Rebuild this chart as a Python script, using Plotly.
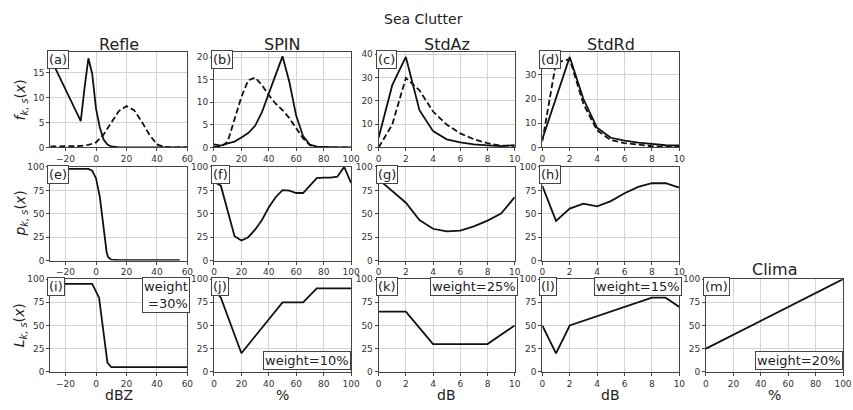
import plotly.graph_objects as go

W, H = 853, 410

# ---------------- data ----------------
# Row 1: f_{k,s}(x)
refle_f_solid_x = [-30, -10, -7.5, -5, -2.5, 0, 2.5, 5, 7.5, 10, 15, 20, 30, 40, 50, 60]
refle_f_solid_y = [18.0, 5.3, 12.0, 17.9, 14.8, 7.8, 4.0, 1.6, 0.6, 0.2, 0.0, 0.0, 0.0, 0.0, 0.0, 0.0]
refle_f_dash_x = [-30, -25, -20, -15, -10, -5, 0, 5, 10, 15, 20, 25, 30, 35, 40, 45, 50, 60]
refle_f_dash_y = [0.2, 0.2, 0.2, 0.2, 0.3, 0.5, 1.0, 2.6, 5.0, 7.3, 8.3, 7.5, 5.2, 2.6, 0.6, 0.1, 0.0, 0.0]

spin_f_x = [0, 5, 10, 15, 20, 25, 30, 35, 40, 45, 50, 55, 60, 65, 70, 75, 80, 85, 90, 95, 100]
spin_f_solid_y = [0.7, 0.4, 0.9, 1.3, 2.2, 3.2, 4.8, 7.8, 12.0, 16.0, 20.2, 14.5, 7.0, 2.5, 0.6, 0.2, 0.1, 0.0, 0.0, 0.0, 0.0]
spin_f_dash_y = [0.2, 0.1, 1.3, 6.5, 11.2, 14.9, 15.5, 13.8, 11.6, 9.7, 8.3, 6.5, 4.2, 2.0, 0.5, 0.1, 0.0, 0.0, 0.0, 0.0, 0.0]

stdaz_f_x = [0, 1, 2, 3, 4, 5, 6, 7, 8, 9, 10]
stdaz_f_solid_y = [4.2, 26.7, 38.8, 16.0, 7.0, 3.5, 2.2, 1.3, 0.9, 0.6, 1.0]
stdaz_f_dash_y = [0.0, 9.8, 29.8, 24.5, 15.4, 9.8, 6.0, 3.5, 1.8, 0.8, 0.6]

stdrd_f_x = [0, 1, 2, 3, 4, 5, 6, 7, 8, 9, 10]
stdrd_f_solid_y = [3.4, 20.3, 37.4, 20.0, 8.1, 4.0, 2.8, 2.0, 1.4, 0.9, 0.8]
stdrd_f_dash_y = [2.5, 35.0, 36.5, 18.0, 7.0, 3.0, 1.8, 1.0, 0.5, 0.2, 0.2]

# Row 2: p_{k,s}(x)
refle_p_x = [-29, -5, -2.5, 0, 2.5, 4, 5, 6, 7, 8, 10, 15, 55]
refle_p_y = [98, 98, 96, 88, 68, 47, 33, 19, 8.7, 3.5, 1.0, 0.5, 0.5]

spin_p_x = [0, 2.5, 5, 10, 15, 20, 25, 30, 35, 40, 45, 50, 55, 60, 65, 70, 75, 80, 85, 90, 95, 100]
spin_p_y = [86, 82, 80, 54, 26, 21.5, 25, 33, 43.4, 57, 67.7, 75.3, 74.7, 72.2, 72.2, 80, 88, 88.5, 88.5, 89.6, 100, 83]

stdaz_p_x = [0, 1, 2, 3, 4, 5, 6, 7, 8, 9, 10]
stdaz_p_y = [86.8, 74.7, 61.8, 43.4, 34, 31.3, 32, 36.5, 42.7, 50.3, 67.7]

stdrd_p_x = [0, 1, 2, 3, 4, 5, 6, 7, 8, 9, 10]
stdrd_p_y = [79.9, 42.4, 55.6, 60.8, 58, 63.5, 71.9, 78.8, 82.6, 82.6, 78]

# Row 3: L_{k,s}(x)
refle_L_x = [-30, -2.5, 2, 7.5, 10, 60]
refle_L_y = [95, 95, 80, 10, 5, 5]
spin_L_x = [0, 5, 20, 50, 65, 75, 100]
spin_L_y = [90, 80, 20, 75, 75, 90, 90]
stdaz_L_x = [0, 2, 4, 8, 10]
stdaz_L_y = [65, 65, 30, 30, 50]
stdrd_L_x = [0, 1, 2, 8, 9, 10]
stdrd_L_y = [50, 20, 50, 80, 80, 70]
clima_L_x = [0, 100]
clima_L_y = [25, 100]

col_titles = ["Refle", "SPIN", "StdAz", "StdRd"]
col_xlabels = ["dBZ", "%", "dB", "dB", "%"]
panel_labels = ["(a)", "(b)", "(c)", "(d)", "(e)", "(f)", "(g)", "(h)", "(i)", "(j)", "(k)", "(l)", "(m)"]
weights = ["weight<br>=30%", "weight=10%", "weight=25%", "weight=15%", "weight=20%"]

x_ranges = [[-30, 60], [0, 100], [0, 10], [0, 10], [0, 100]]
x_ticks = [[-20, 0, 20, 40, 60], [0, 20, 40, 60, 80, 100], [0, 2, 4, 6, 8, 10], [0, 2, 4, 6, 8, 10], [0, 20, 40, 60, 80, 100]]
row1_yranges = [[0, 19.2], [0, 21.2], [0, 41], [0, 39.5]]
row1_yticks = [[0, 5, 10, 15], [0, 5, 10, 15, 20], [0, 10, 20, 30, 40], [0, 10, 20, 30]]
pl_yticks = [0, 25, 50, 75, 100]

# ---------------- layout geometry (pixels) ----------------
col_px = [(48, 187), (214, 353), (381, 519), (547, 686), (713, 852)]
row_px = [(48, 146), (166, 262), (281, 376)]

fig = go.Figure()
layout = dict(width=W, height=H, margin=dict(l=0, r=0, t=0, b=0),
              paper_bgcolor="white", plot_bgcolor="white", showlegend=False,
              font=dict(family="DejaVu Sans", color="#222"))
annotations = []

panels = []  # (row, col), row-major = label order a..m
for r in range(3):
    for c in range(4):
        panels.append((r, c))
panels.append((2, 4))

series = {
    (0, 0): [(refle_f_solid_x, refle_f_solid_y, "solid"), (refle_f_dash_x, refle_f_dash_y, "dash")],
    (0, 1): [(spin_f_x, spin_f_solid_y, "solid"), (spin_f_x, spin_f_dash_y, "dash")],
    (0, 2): [(stdaz_f_x, stdaz_f_solid_y, "solid"), (stdaz_f_x, stdaz_f_dash_y, "dash")],
    (0, 3): [(stdrd_f_x, stdrd_f_solid_y, "solid"), (stdrd_f_x, stdrd_f_dash_y, "dash")],
    (1, 0): [(refle_p_x, refle_p_y, "solid")],
    (1, 1): [(spin_p_x, spin_p_y, "solid")],
    (1, 2): [(stdaz_p_x, stdaz_p_y, "solid")],
    (1, 3): [(stdrd_p_x, stdrd_p_y, "solid")],
    (2, 0): [(refle_L_x, refle_L_y, "solid")],
    (2, 1): [(spin_L_x, spin_L_y, "solid")],
    (2, 2): [(stdaz_L_x, stdaz_L_y, "solid")],
    (2, 3): [(stdrd_L_x, stdrd_L_y, "solid")],
    (2, 4): [(clima_L_x, clima_L_y, "solid")],
}

axis_common = dict(showline=True, linecolor="#444", linewidth=1, mirror=True,
                   ticks="outside", ticklen=3, tickwidth=1, tickcolor="#444",
                   showgrid=True, gridcolor="#d4d4d4", gridwidth=1, zeroline=False,
                   tickfont=dict(size=9, color="#333"))

for i, (r, c) in enumerate(panels):
    n = i + 1
    xs = "" if n == 1 else str(n)
    x0, x1 = col_px[c]
    y0, y1 = row_px[r]
    xdom = [x0 / W, x1 / W]
    ydom = [1 - y1 / H, 1 - y0 / H]
    if r == 0:
        yr, yt = row1_yranges[c], row1_yticks[c]
    else:
        yr, yt = [0, 100], pl_yticks
    layout["xaxis" + xs] = dict(domain=xdom, range=x_ranges[c], tickvals=x_ticks[c],
                                anchor="y" + xs, **axis_common)
    layout["yaxis" + xs] = dict(domain=ydom, range=yr, tickvals=yt,
                                anchor="x" + xs, **axis_common)
    for sx, sy, dash in series[(r, c)]:
        fig.add_trace(go.Scatter(x=sx, y=sy, mode="lines", xaxis="x" + xs, yaxis="y" + xs,
                                 line=dict(color="#111", width=1.8, dash=dash if dash == "solid" else "6px,3px"),
                                 hoverinfo="skip"))
    # panel label
    annotations.append(dict(text=panel_labels[i], xref="x" + xs + " domain", yref="y" + xs + " domain",
                            x=0, y=1, xanchor="left", yanchor="top", xshift=-3, yshift=2,
                            showarrow=False, font=dict(size=13, color="#222"),
                            bgcolor="white", bordercolor="#444", borderwidth=1, borderpad=1))
    # weights in row 3
    if r == 2:
        w = weights[c]
        if c in (1, 4):
            annotations.append(dict(text=w, xref="x" + xs + " domain", yref="y" + xs + " domain",
                                    x=1, y=0, xanchor="right", yanchor="bottom", xshift=0, yshift=2,
                                    showarrow=False, font=dict(size=13, color="#222"), align="right",
                                    bgcolor="white", bordercolor="#444", borderwidth=1, borderpad=1))
        else:
            annotations.append(dict(text=w, xref="x" + xs + " domain", yref="y" + xs + " domain",
                                    x=1, y=1, xanchor="right", yanchor="top", xshift=3, yshift=2,
                                    showarrow=False, font=dict(size=13, color="#222"), align="right",
                                    bgcolor="white", bordercolor="#444", borderwidth=1, borderpad=1))

# column titles
for c, t in enumerate(col_titles):
    x0, x1 = col_px[c]
    annotations.append(dict(text=t, xref="paper", yref="paper", x=(x0 + x1) / 2 / W, y=1 - 40 / H,
                            xanchor="center", yanchor="middle", showarrow=False,
                            font=dict(size=16, color="#222")))
annotations.append(dict(text="Clima", xref="paper", yref="paper", x=(col_px[4][0] + col_px[4][1]) / 2 / W,
                        y=1 - 271 / H, xanchor="center", yanchor="middle", showarrow=False,
                        font=dict(size=16, color="#222")))
annotations.append(dict(text="Sea Clutter", xref="paper", yref="paper", x=0.5, y=1 - 14 / H,
                        xanchor="center", yanchor="middle", showarrow=False,
                        font=dict(size=14, color="#222")))
# x labels
for c, t in enumerate(col_xlabels):
    x0, x1 = col_px[c]
    annotations.append(dict(text=t, xref="paper", yref="paper", x=(x0 + x1) / 2 / W, y=0,
                            xanchor="center", yanchor="bottom", yshift=0, showarrow=False,
                            font=dict(size=14, color="#222")))
# y labels
ylabels = ["<i>f</i><sub><i>k, s</i></sub>(<i>x</i>)", "<i>p</i><sub><i>k, s</i></sub>(<i>x</i>)",
           "<i>L</i><sub><i>k, s</i></sub>(<i>x</i>)"]
for r, t in enumerate(ylabels):
    y0, y1 = row_px[r]
    annotations.append(dict(text=t, xref="paper", yref="paper", x=18 / W, y=1 - (y0 + y1) / 2 / H,
                            xanchor="center", yanchor="middle", textangle=-90, showarrow=False,
                            font=dict(size=14, color="#222")))

layout["annotations"] = annotations
fig.update_layout(**layout)
fig.write_html("out.html")
